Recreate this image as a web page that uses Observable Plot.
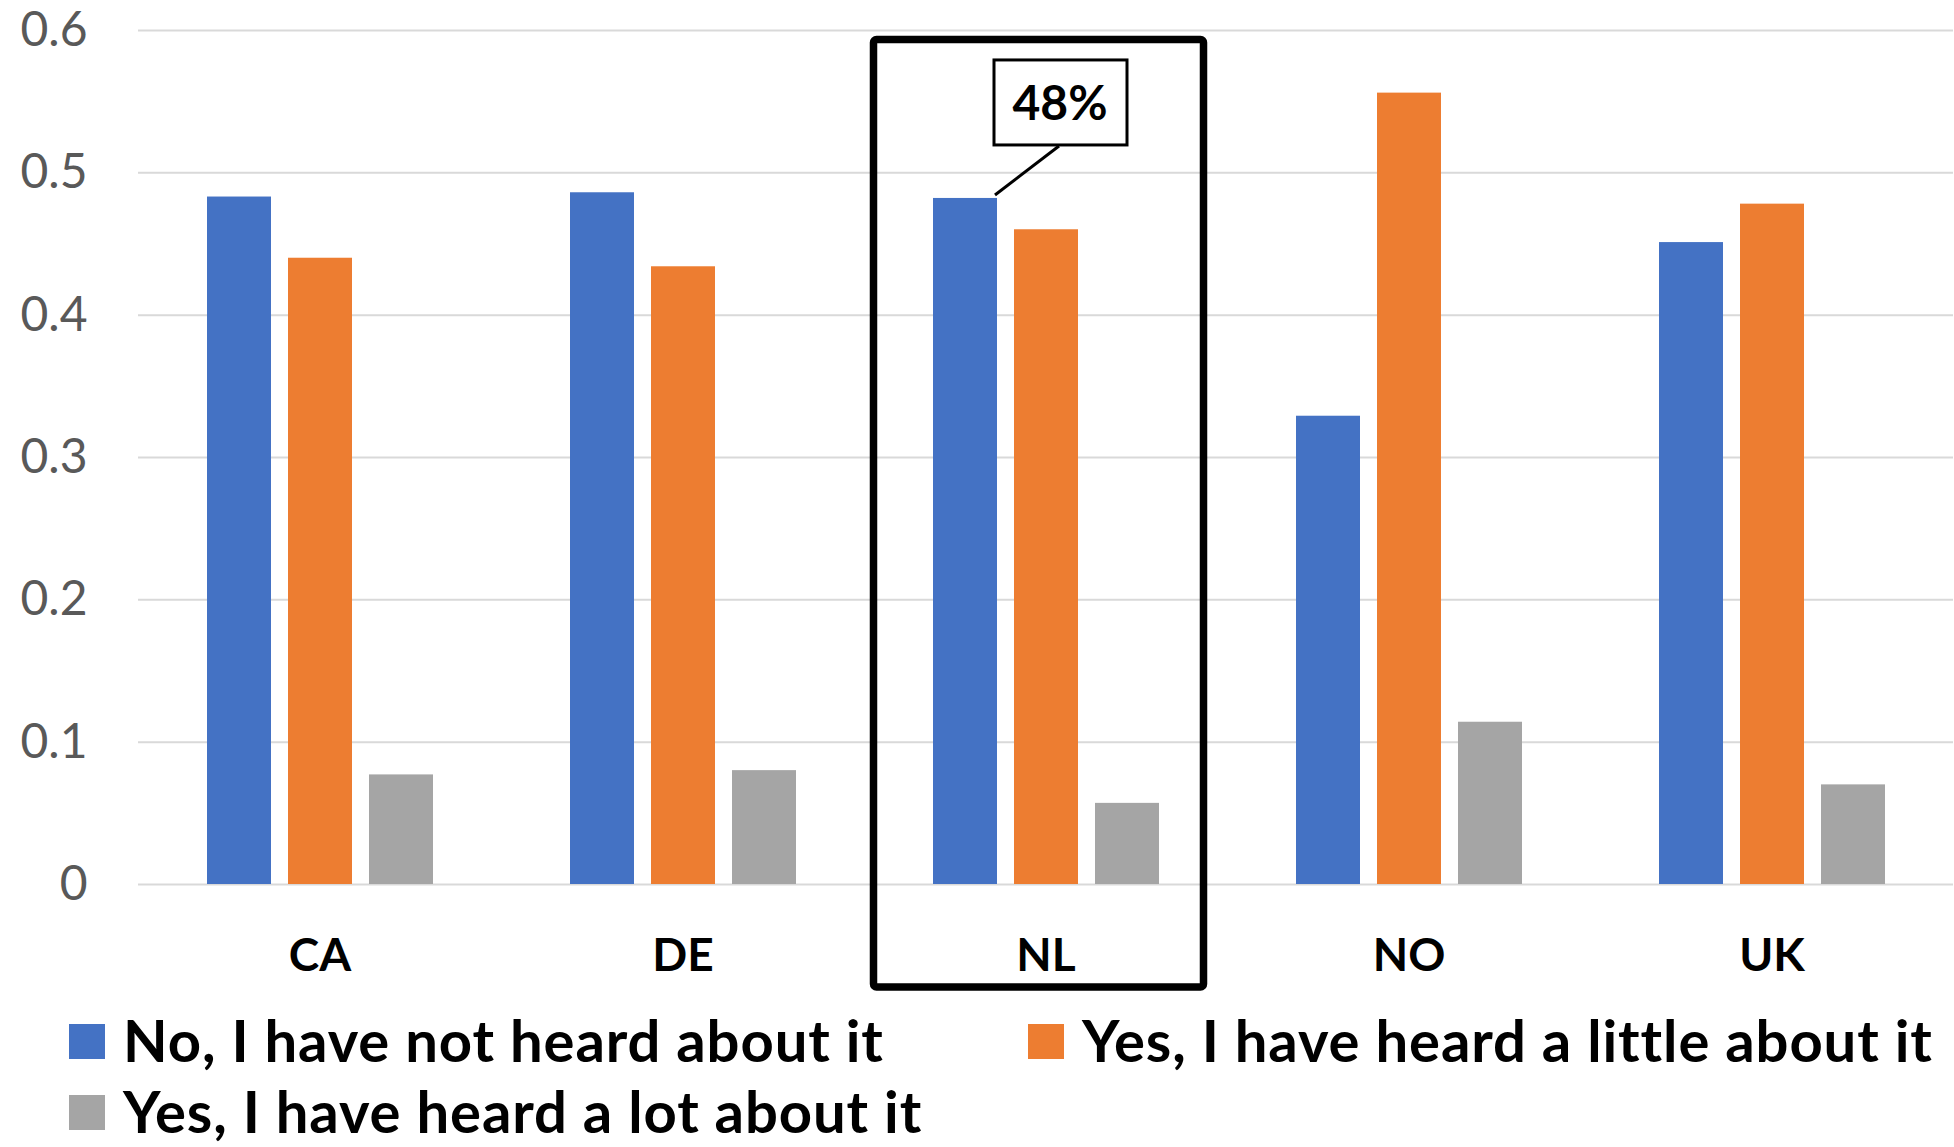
<!DOCTYPE html>
<html><head><meta charset="utf-8">
<script src="https://cdn.jsdelivr.net/npm/d3@7"></script>
<script src="https://cdn.jsdelivr.net/npm/@observablehq/plot@0.6"></script>
<style>
body{margin:0;background:#fff;font-family:Lato,"Open Sans",sans-serif;}
#chart svg{display:block;overflow:visible}
#legend{display:grid;grid-template-columns:959px auto;padding-left:69px;margin-top:4px;}
.item{display:flex;align-items:center;height:71px;font-weight:bold;font-size:58px;line-height:1;letter-spacing:0.9px;color:#000;white-space:nowrap}
.sw{width:36px;height:35px;margin-right:18px;flex:none;position:relative;top:2px}
</style></head><body><div id="chart"></div><div id="legend"></div>
<script>
const countries = ["CA", "DE", "NL", "NO", "UK"];
const series = ["No, I have not heard about it", "Yes, I have heard a little about it", "Yes, I have heard a lot about it"];
const notHeard = [0.483, 0.486, 0.482, 0.329, 0.451];
const heardLittle = [0.440, 0.434, 0.460, 0.556, 0.478];
const heardLot = [0.077, 0.080, 0.057, 0.114, 0.070];
const colors = ["#4472C4", "#ED7D31", "#A5A5A5"];
const yTicks = [0, 0.1, 0.2, 0.3, 0.4, 0.5, 0.6];
const yTickLabels = ["0", "0.1", "0.2", "0.3", "0.4", "0.5", "0.6"];
const highlight = "NL";
const calloutSeries = series[0];
const calloutText = "48%";

const valuesBySeries = [notHeard, heardLittle, heardLot];
const data = [];
countries.forEach((c, i) => series.forEach((s, j) => data.push({country: c, series: s, value: valuesBySeries[j][i]})));

const plot = Plot.plot({
  width: 1954, height: 1000,
  marginTop: 30, marginBottom: 116, marginLeft: 136, marginRight: 0,
  style: {fontFamily: "Lato, 'Open Sans', sans-serif", fontSize: "48px", color: "#595959", background: "white", overflow: "visible"},
  fx: {domain: countries, padding: 0, axis: null},
  x: {domain: series, paddingInner: 0.215, paddingOuter: 0.84, axis: null},
  y: {domain: [0, 0.6], ticks: yTicks, tickFormat: d => yTickLabels[yTicks.indexOf(d)], tickSize: 0, tickPadding: 51, label: null},
  color: {domain: series, range: colors},
  marks: [
    Plot.ruleY(yTicks, {stroke: "#d9d9d9", strokeWidth: 2}),
    Plot.barY(data, {fx: "country", x: "series", y: "value", fill: "series", ariaLabel: d => d.country + "|" + d.series}),
    Plot.text(countries, {fx: d => d, text: d => d, frameAnchor: "bottom", dy: 86, fontWeight: "bold", fontSize: 46, fill: "black"}),
    Plot.rect([highlight], {fx: d => d, fill: "none", stroke: "black", strokeWidth: 7.5, rx: 3,
      insetLeft: 9.5, insetRight: 23.5, insetTop: 9.5, insetBottom: -103})
  ]
});
document.getElementById("chart").appendChild(plot);

// callout annotation anchored on the highlighted bar
const svg = d3.select(plot);
const sb = plot.getBoundingClientRect();
const barEl = plot.querySelector(`rect[aria-label="${highlight}|${calloutSeries}"]`);
if (barEl) {
  const bb = barEl.getBoundingClientRect();
  const bx = bb.right - sb.left, by = bb.top - sb.top;
  const g = svg.append("g");
  g.append("line").attr("x1", bx - 2).attr("y1", by - 3).attr("x2", bx + 62).attr("y2", by - 52)
    .attr("stroke", "black").attr("stroke-width", 3);
  g.append("rect").attr("x", bx - 3).attr("y", by - 138).attr("width", 133).attr("height", 85)
    .attr("fill", "white").attr("stroke", "black").attr("stroke-width", 3);
  g.append("text").attr("x", bx + 63).attr("y", by - 95).attr("text-anchor", "middle").attr("dy", "0.36em")
    .attr("font-weight", "bold").attr("font-size", 48).attr("fill", "black").text(calloutText);
}

// legend
const legend = d3.select("#legend");
series.forEach((s, i) => {
  const it = legend.append("div").attr("class", "item");
  it.append("div").attr("class", "sw").style("background", colors[i]);
  it.append("span").text(s);
});
</script></body></html>
